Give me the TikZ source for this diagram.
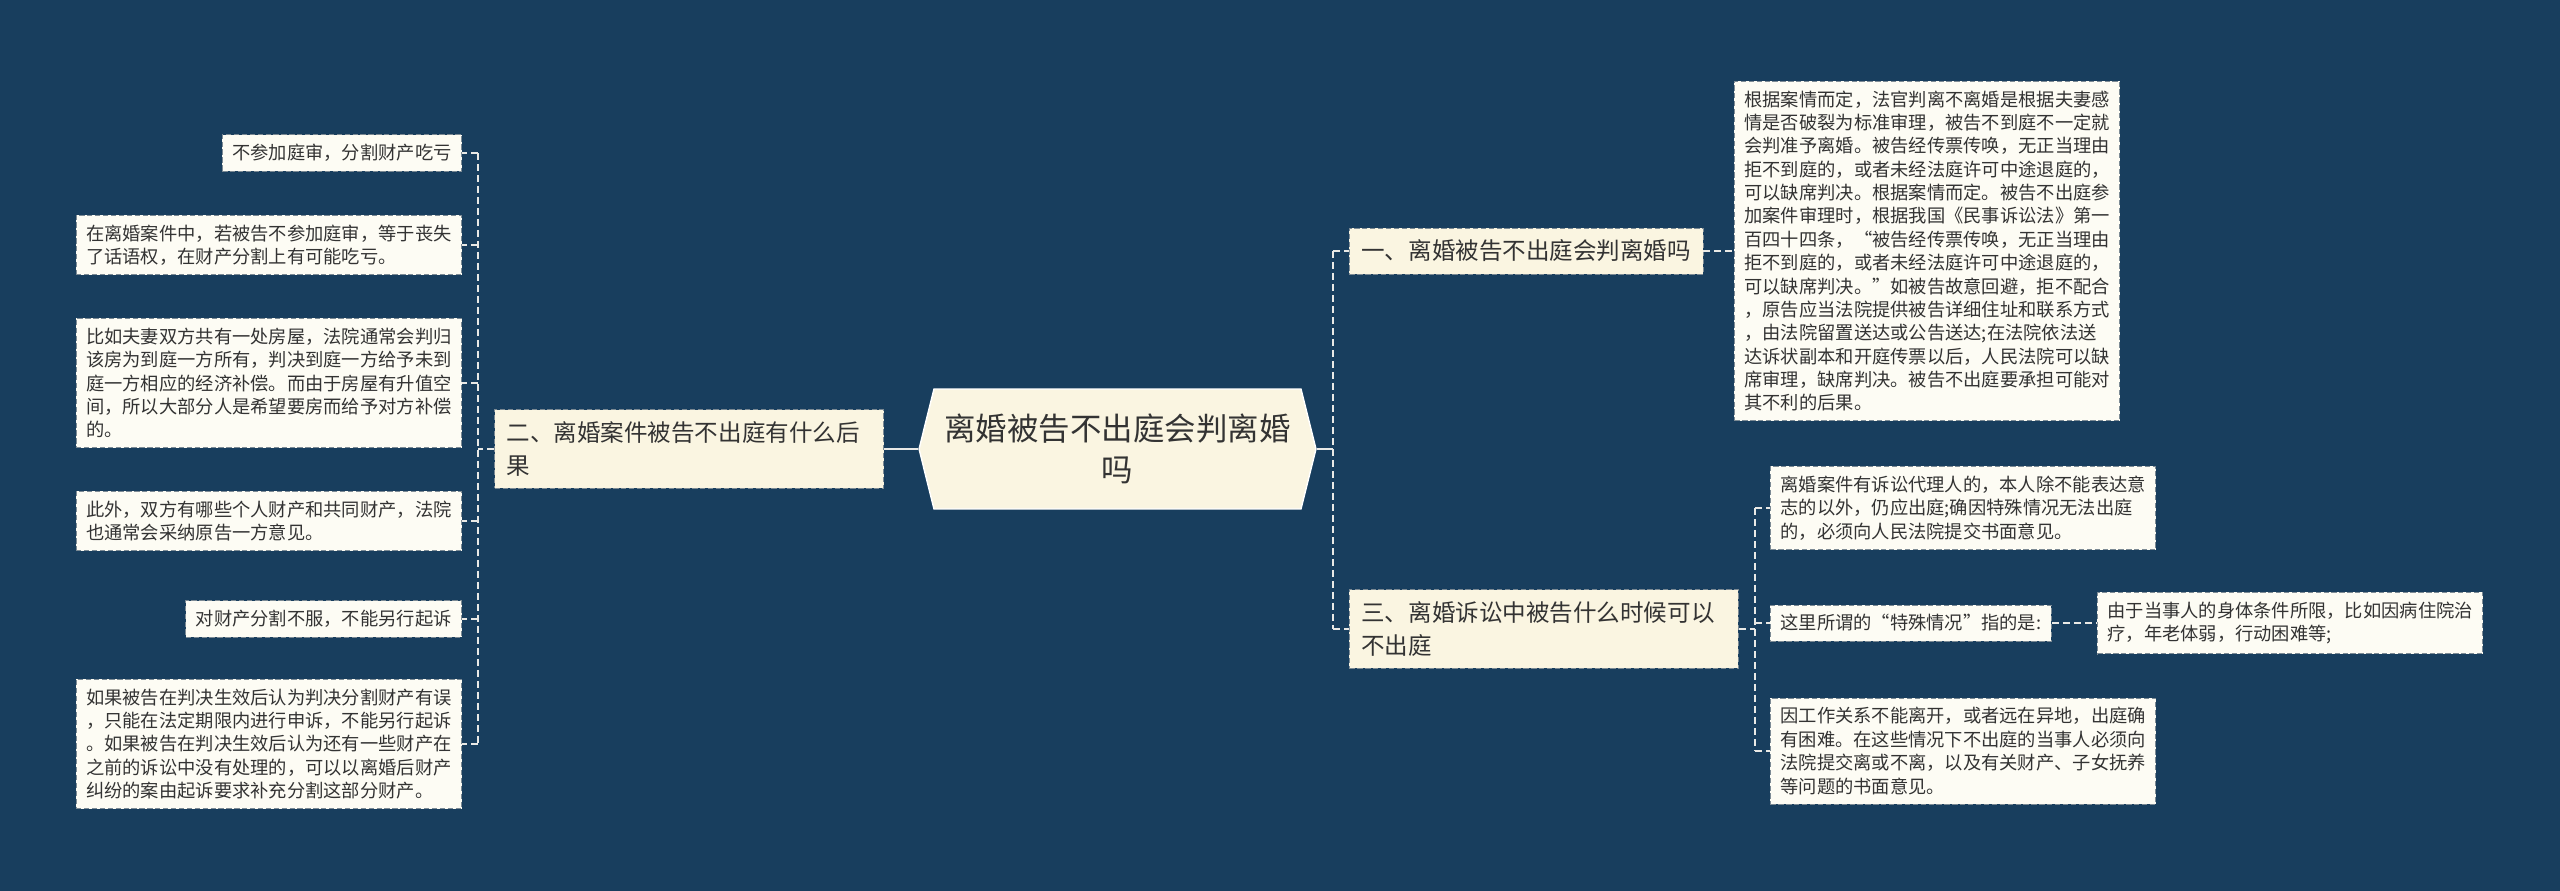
\documentclass[tikz,border=0pt]{standalone}
\usepackage{fontspec}
\usepackage{tikz}
\usetikzlibrary{shapes.symbols}
\newfontfamily\cjk{Noto Sans CJK SC}
\definecolor{mapbg}{HTML}{183E5E}
\definecolor{mapleaf}{HTML}{FDFCF4}
\definecolor{mapbranch}{HTML}{FAF5E1}
\definecolor{mapedge}{HTML}{7C8A94}
\definecolor{mapline}{HTML}{E9E9E6}
\definecolor{maptext}{HTML}{333333}
\begin{document}
\begin{tikzpicture}[x=0.02cm,y=-0.02cm,
  leaf/.style={draw=mapedge,line width=0.5pt,dash pattern=on 3pt off 1.5pt,fill=mapleaf,text=maptext,align=left,inner xsep=0.2cm,inner ysep=0.19cm,font=\cjk\fontsize{10.4}{13.3}\selectfont},
  branch/.style={leaf,fill=mapbranch,inner xsep=0.24cm,inner ysep=0.24cm,font=\cjk\fontsize{13.4}{18.7}\selectfont},
  hub/.style={shape=signal,signal to=east and west,signal pointer angle=152,draw=white,line width=0.8pt,fill=mapbranch,text=maptext,align=center,font=\cjk\fontsize{17.9}{23.2}\selectfont},
  link/.style={draw=mapline,line width=1.1pt,dash pattern=on 0.14cm off 0.08cm},
  stem/.style={draw=mapline,line width=1.1pt}
]
\fill[mapbg] (0,0) rectangle (2560,891);
\node[hub,minimum width=7.94cm,minimum height=2.4cm] (root) at (1117.5,449) {离婚被告不出庭会判离婚\\吗};
\node[branch,anchor=east,text width=7.3cm] (b2) at (884,449) {二、离婚案件被告不出庭有什么后\\果};
\node[branch,anchor=west] (b1) at (1349,251) {一、离婚被告不出庭会判离婚吗};
\node[branch,anchor=west,text width=7.3cm] (b3) at (1349,629) {三、离婚诉讼中被告什么时候可以\\不出庭};
\node[leaf,anchor=east] (l1) at (462,153) {不参加庭审，分割财产吃亏};
\node[leaf,anchor=east] (l2) at (462,245) {在离婚案件中，若被告不参加庭审，等于丧失\\了话语权，在财产分割上有可能吃亏。};
\node[leaf,anchor=east] (l3) at (462,383) {比如夫妻双方共有一处房屋，法院通常会判归\\该房为到庭一方所有，判决到庭一方给予未到\\庭一方相应的经济补偿。而由于房屋有升值空\\间，所以大部分人是希望要房而给予对方补偿\\的。};
\node[leaf,anchor=east] (l4) at (462,521) {此外，双方有哪些个人财产和共同财产，法院\\也通常会采纳原告一方意见。};
\node[leaf,anchor=east] (l5) at (462,619) {对财产分割不服，不能另行起诉};
\node[leaf,anchor=east] (l6) at (462,744) {如果被告在判决生效后认为判决分割财产有误\\，只能在法定期限内进行申诉，不能另行起诉\\。如果被告在判决生效后认为还有一些财产在\\之前的诉讼中没有处理的，可以以离婚后财产\\纠纷的案由起诉要求补充分割这部分财产。};
\node[leaf,anchor=west] (r1) at (1734,251) {根据案情而定，法官判离不离婚是根据夫妻感\\情是否破裂为标准审理，被告不到庭不一定就\\会判准予离婚。被告经传票传唤，无正当理由\\拒不到庭的，或者未经法庭许可中途退庭的，\\可以缺席判决。根据案情而定。被告不出庭参\\加案件审理时，根据我国《民事诉讼法》第一\\百四十四条，“被告经传票传唤，无正当理由\\拒不到庭的，或者未经法庭许可中途退庭的，\\可以缺席判决。”如被告故意回避，拒不配合\\，原告应当法院提供被告详细住址和联系方式\\，由法院留置送达或公告送达;在法院依法送\\达诉状副本和开庭传票以后，人民法院可以缺\\席审理，缺席判决。被告不出庭要承担可能对\\其不利的后果。};
\node[leaf,anchor=west] (ra) at (1770,508) {离婚案件有诉讼代理人的，本人除不能表达意\\志的以外，仍应出庭;确因特殊情况无法出庭\\的，必须向人民法院提交书面意见。};
\node[leaf,anchor=west] (rb) at (1770,623) {这里所谓的“特殊情况”指的是:};
\node[leaf,anchor=west] (rc) at (2097,623) {由于当事人的身体条件所限，比如因病住院治\\疗，年老体弱，行动困难等;};
\node[leaf,anchor=west] (rd) at (1770,751) {因工作关系不能离开，或者远在异地，出庭确\\有困难。在这些情况下不出庭的当事人必须向\\法院提交离或不离，以及有关财产、子女抚养\\等问题的书面意见。};
\coordinate (jl) at (478,449);
\coordinate (jr) at (1333,449);
\coordinate (j3) at (1755,629);
\draw[stem] (root.west) -- (b2.east);
\draw[stem] (root.east) -- (jr);
\draw[link] (b2.west) -- (jl);
\draw[link] (jl |- l1.east) -- (jl |- l6.east);
\foreach \n in {l1,l2,l3,l4,l5,l6}
  \draw[link] (jl |- \n.east) -- (\n.east);
\draw[link] (jr |- b1.west) -- (jr |- b3.west);
\draw[link] (jr |- b1.west) -- (b1.west);
\draw[link] (jr |- b3.west) -- (b3.west);
\draw[link] (b1.east) -- (r1.west);
\draw[link] (b3.east) -- (j3);
\draw[link] (j3 |- ra.west) -- (j3 |- rd.west);
\foreach \n in {ra,rb,rd}
  \draw[link] (j3 |- \n.west) -- (\n.west);
\draw[link] (rb.east) -- (rc.west);
\end{tikzpicture}
\end{document}
